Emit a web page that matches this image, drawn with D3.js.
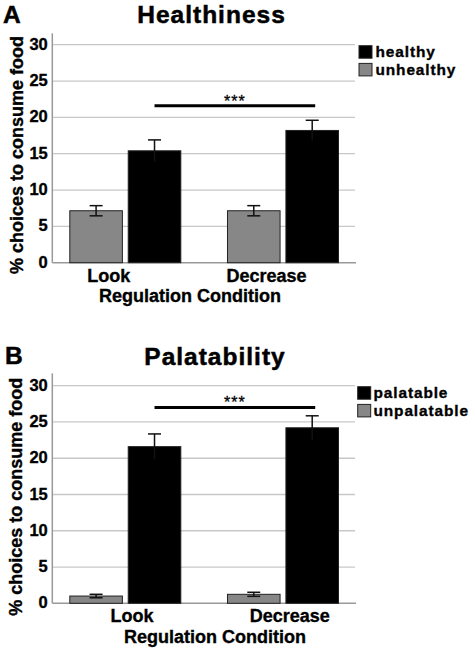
<!DOCTYPE html>
<html>
<head>
<meta charset="utf-8">
<script src="https://cdn.jsdelivr.net/npm/d3@7"></script>
<style>
  html, body { margin: 0; padding: 0; background: #fff; }
  svg { display: block; font-family: "Liberation Sans", Arial, Helvetica, sans-serif; }
</style>
</head>
<body>
<svg id="chart" width="475" height="650"></svg>
<script>
// ---- data ----
const categories = ["Look", "Decrease"];
const yTicks = [0, 5, 10, 15, 20, 25, 30];

const healthyMean = [15.4, 18.2];
const healthyErr = [1.5, 1.4];
const unhealthyMean = [7.15, 7.15];
const unhealthyErr = [0.7, 0.7];
const healthSig = 21.6;

const palatableMean = [21.6, 24.2];
const palatableErr = [1.75, 1.65];
const unpalatableMean = [1.0, 1.24];
const unpalatableErr = [0.24, 0.28];
const palatSig = 27.0;

// ---- layout ----
const svg = d3.select("#chart");
const axisX = 52.3, rightX = 356;

const panels = [
  { letter: "A", title: "Healthiness", posName: "healthy", negName: "unhealthy",
    posMean: healthyMean, posErr: healthyErr, negMean: unhealthyMean, negErr: unhealthyErr,
    sig: healthSig, y0: 262.7, y30: 44.7, axisTop: 33.3,
    titleX: 211.5, titleY: 22.5, letterX: 3, letterY: 22.5,
    catOffset: -16.5, catDy: 19, xTitleX: 190, xTitleY: 301.7,
    yTitleX: 23, yTitleCY: 155,
    legX: 359, legY: 45.7, legTextX: 375.5 },
  { letter: "B", title: "Palatability", posName: "palatable", negName: "unpalatable",
    posMean: palatableMean, posErr: palatableErr, negMean: unpalatableMean, negErr: unpalatableErr,
    sig: palatSig, y0: 603.3, y30: 385.7, axisTop: 373.3,
    titleX: 215, titleY: 365, letterX: 5, letterY: 363.5,
    catOffset: 6.8, catDy: 18.4, xTitleX: 215, xTitleY: 643.3,
    yTitleX: 22, yTitleCY: 496.7,
    legX: 357.7, legY: 386.7, legTextX: 373.5 }
];

const x = d3.scaleBand().domain(categories).range([axisX, rightX])
  .paddingInner(0.296).paddingOuter(0.111);
const xs = d3.scaleBand().domain(["neg", "pos"]).range([0, x.bandwidth()])
  .paddingInner(0.1).paddingOuter(0);

function heavy(sel, sw) {
  return sel.attr("font-weight", "bold").attr("fill", "#000")
    .attr("stroke", "#000").attr("stroke-width", sw === undefined ? 0.35 : sw);
}

panels.forEach(p => {
  const g = svg.append("g");
  const y = d3.scaleLinear().domain([0, 30]).range([p.y0, p.y30]);

  // gridlines
  g.selectAll("line.grid").data(yTicks.filter(t => t > 0)).join("line")
    .attr("x1", axisX).attr("x2", rightX - 1)
    .attr("y1", d => y(d)).attr("y2", d => y(d))
    .attr("stroke", "#c8c8c8").attr("stroke-width", 1.3);

  // y tick labels via axis
  const ax = g.append("g").attr("transform", `translate(${axisX - 0.5},0)`)
    .call(d3.axisLeft(y).tickValues(yTicks).tickSize(0).tickPadding(4).tickFormat(d3.format("d")));
  ax.select(".domain").remove();
  heavy(ax.selectAll("text").attr("font-size", 16.5)
    .attr("font-family", "Liberation Sans, Arial, sans-serif")
    .attr("dy", "0.28em"));

  // axis lines
  g.append("line").attr("x1", axisX).attr("x2", axisX).attr("y1", p.axisTop).attr("y2", p.y0)
    .attr("stroke", "#999").attr("stroke-width", 1.5);
  g.append("line").attr("x1", axisX).attr("x2", rightX).attr("y1", p.y0).attr("y2", p.y0)
    .attr("stroke", "#999").attr("stroke-width", 1.5);

  // bars
  const rows = [];
  categories.forEach((c, i) => {
    rows.push({ cat: c, key: "neg", mean: p.negMean[i], err: p.negErr[i] });
    rows.push({ cat: c, key: "pos", mean: p.posMean[i], err: p.posErr[i] });
  });

  g.selectAll("rect.bar").data(rows).join("rect")
    .attr("x", d => x(d.cat) + xs(d.key))
    .attr("width", xs.bandwidth())
    .attr("y", d => y(d.mean))
    .attr("height", d => y(0) - y(d.mean))
    .attr("fill", d => d.key === "pos" ? "#000" : "#878787")
    .attr("stroke", "#222").attr("stroke-width", 1);

  const eb = g.selectAll("g.err").data(rows).join("g");
  const cx = d => x(d.cat) + xs(d.key) + xs.bandwidth() / 2;
  const capW = 6.5;
  eb.append("line").attr("x1", cx).attr("x2", cx)
    .attr("y1", d => y(d.mean + d.err)).attr("y2", d => y(d.mean - d.err))
    .attr("stroke", "#111").attr("stroke-width", 1.5);
  eb.append("line").attr("x1", d => cx(d) - capW).attr("x2", d => cx(d) + capW)
    .attr("y1", d => y(d.mean + d.err)).attr("y2", d => y(d.mean + d.err))
    .attr("stroke", "#111").attr("stroke-width", 1.5);
  eb.filter(d => d.key === "neg").append("line")
    .attr("x1", d => cx(d) - capW).attr("x2", d => cx(d) + capW)
    .attr("y1", d => y(d.mean - d.err)).attr("y2", d => y(d.mean - d.err))
    .attr("stroke", "#111").attr("stroke-width", 1.5);

  // significance line
  const sx1 = x(categories[0]) + xs("pos") + xs.bandwidth() / 2;
  const sx2 = x(categories[1]) + xs("pos") + xs.bandwidth() / 2 + 3;
  g.append("line").attr("x1", sx1).attr("x2", sx2)
    .attr("y1", y(p.sig)).attr("y2", y(p.sig))
    .attr("stroke", "#000").attr("stroke-width", 3);
  g.append("text").attr("x", (sx1 + sx2) / 2).attr("y", y(p.sig) + 1)
    .attr("text-anchor", "middle").attr("font-size", 16).attr("letter-spacing", 1)
    .attr("stroke", "#000").attr("stroke-width", 0.3)
    .text("***");

  // category labels
  heavy(g.selectAll("text.cat").data(categories).join("text")
    .attr("x", d => x(d) + x.bandwidth() / 2 + p.catOffset)
    .attr("y", p.y0 + p.catDy)
    .attr("text-anchor", "middle").attr("font-size", 18)
    .text(d => d));

  // x title
  heavy(g.append("text").attr("x", p.xTitleX).attr("y", p.xTitleY)
    .attr("text-anchor", "middle").attr("font-size", 18)
    .text("Regulation Condition"));

  // y title
  heavy(g.append("text").attr("transform", `translate(${p.yTitleX},${p.yTitleCY}) rotate(-90)`)
    .attr("text-anchor", "middle").attr("font-size", 18)
    .text("% choices to consume food"));

  // titles
  heavy(g.append("text").attr("x", p.titleX).attr("y", p.titleY)
    .attr("text-anchor", "middle").attr("font-size", 24.5).attr("letter-spacing", 1)
    .text(p.title), 0.5);
  heavy(g.append("text").attr("x", p.letterX).attr("y", p.letterY)
    .attr("font-size", 24.5)
    .text(p.letter), 0.5);

  // legend
  const leg = [{ name: p.posName, fill: "#000" }, { name: p.negName, fill: "#878787" }];
  const lg = g.selectAll("g.leg").data(leg).join("g")
    .attr("transform", (d, i) => `translate(0,${p.legY + i * 17.7})`);
  lg.append("rect").attr("x", p.legX).attr("y", 0).attr("width", 13).attr("height", 12.5)
    .attr("fill", d => d.fill).attr("stroke", "#222").attr("stroke-width", 1);
  heavy(lg.append("text").attr("x", p.legTextX).attr("y", 11.5)
    .attr("font-size", 15.4).attr("letter-spacing", 0.9)
    .text(d => d.name));
});
</script>
</body>
</html>
